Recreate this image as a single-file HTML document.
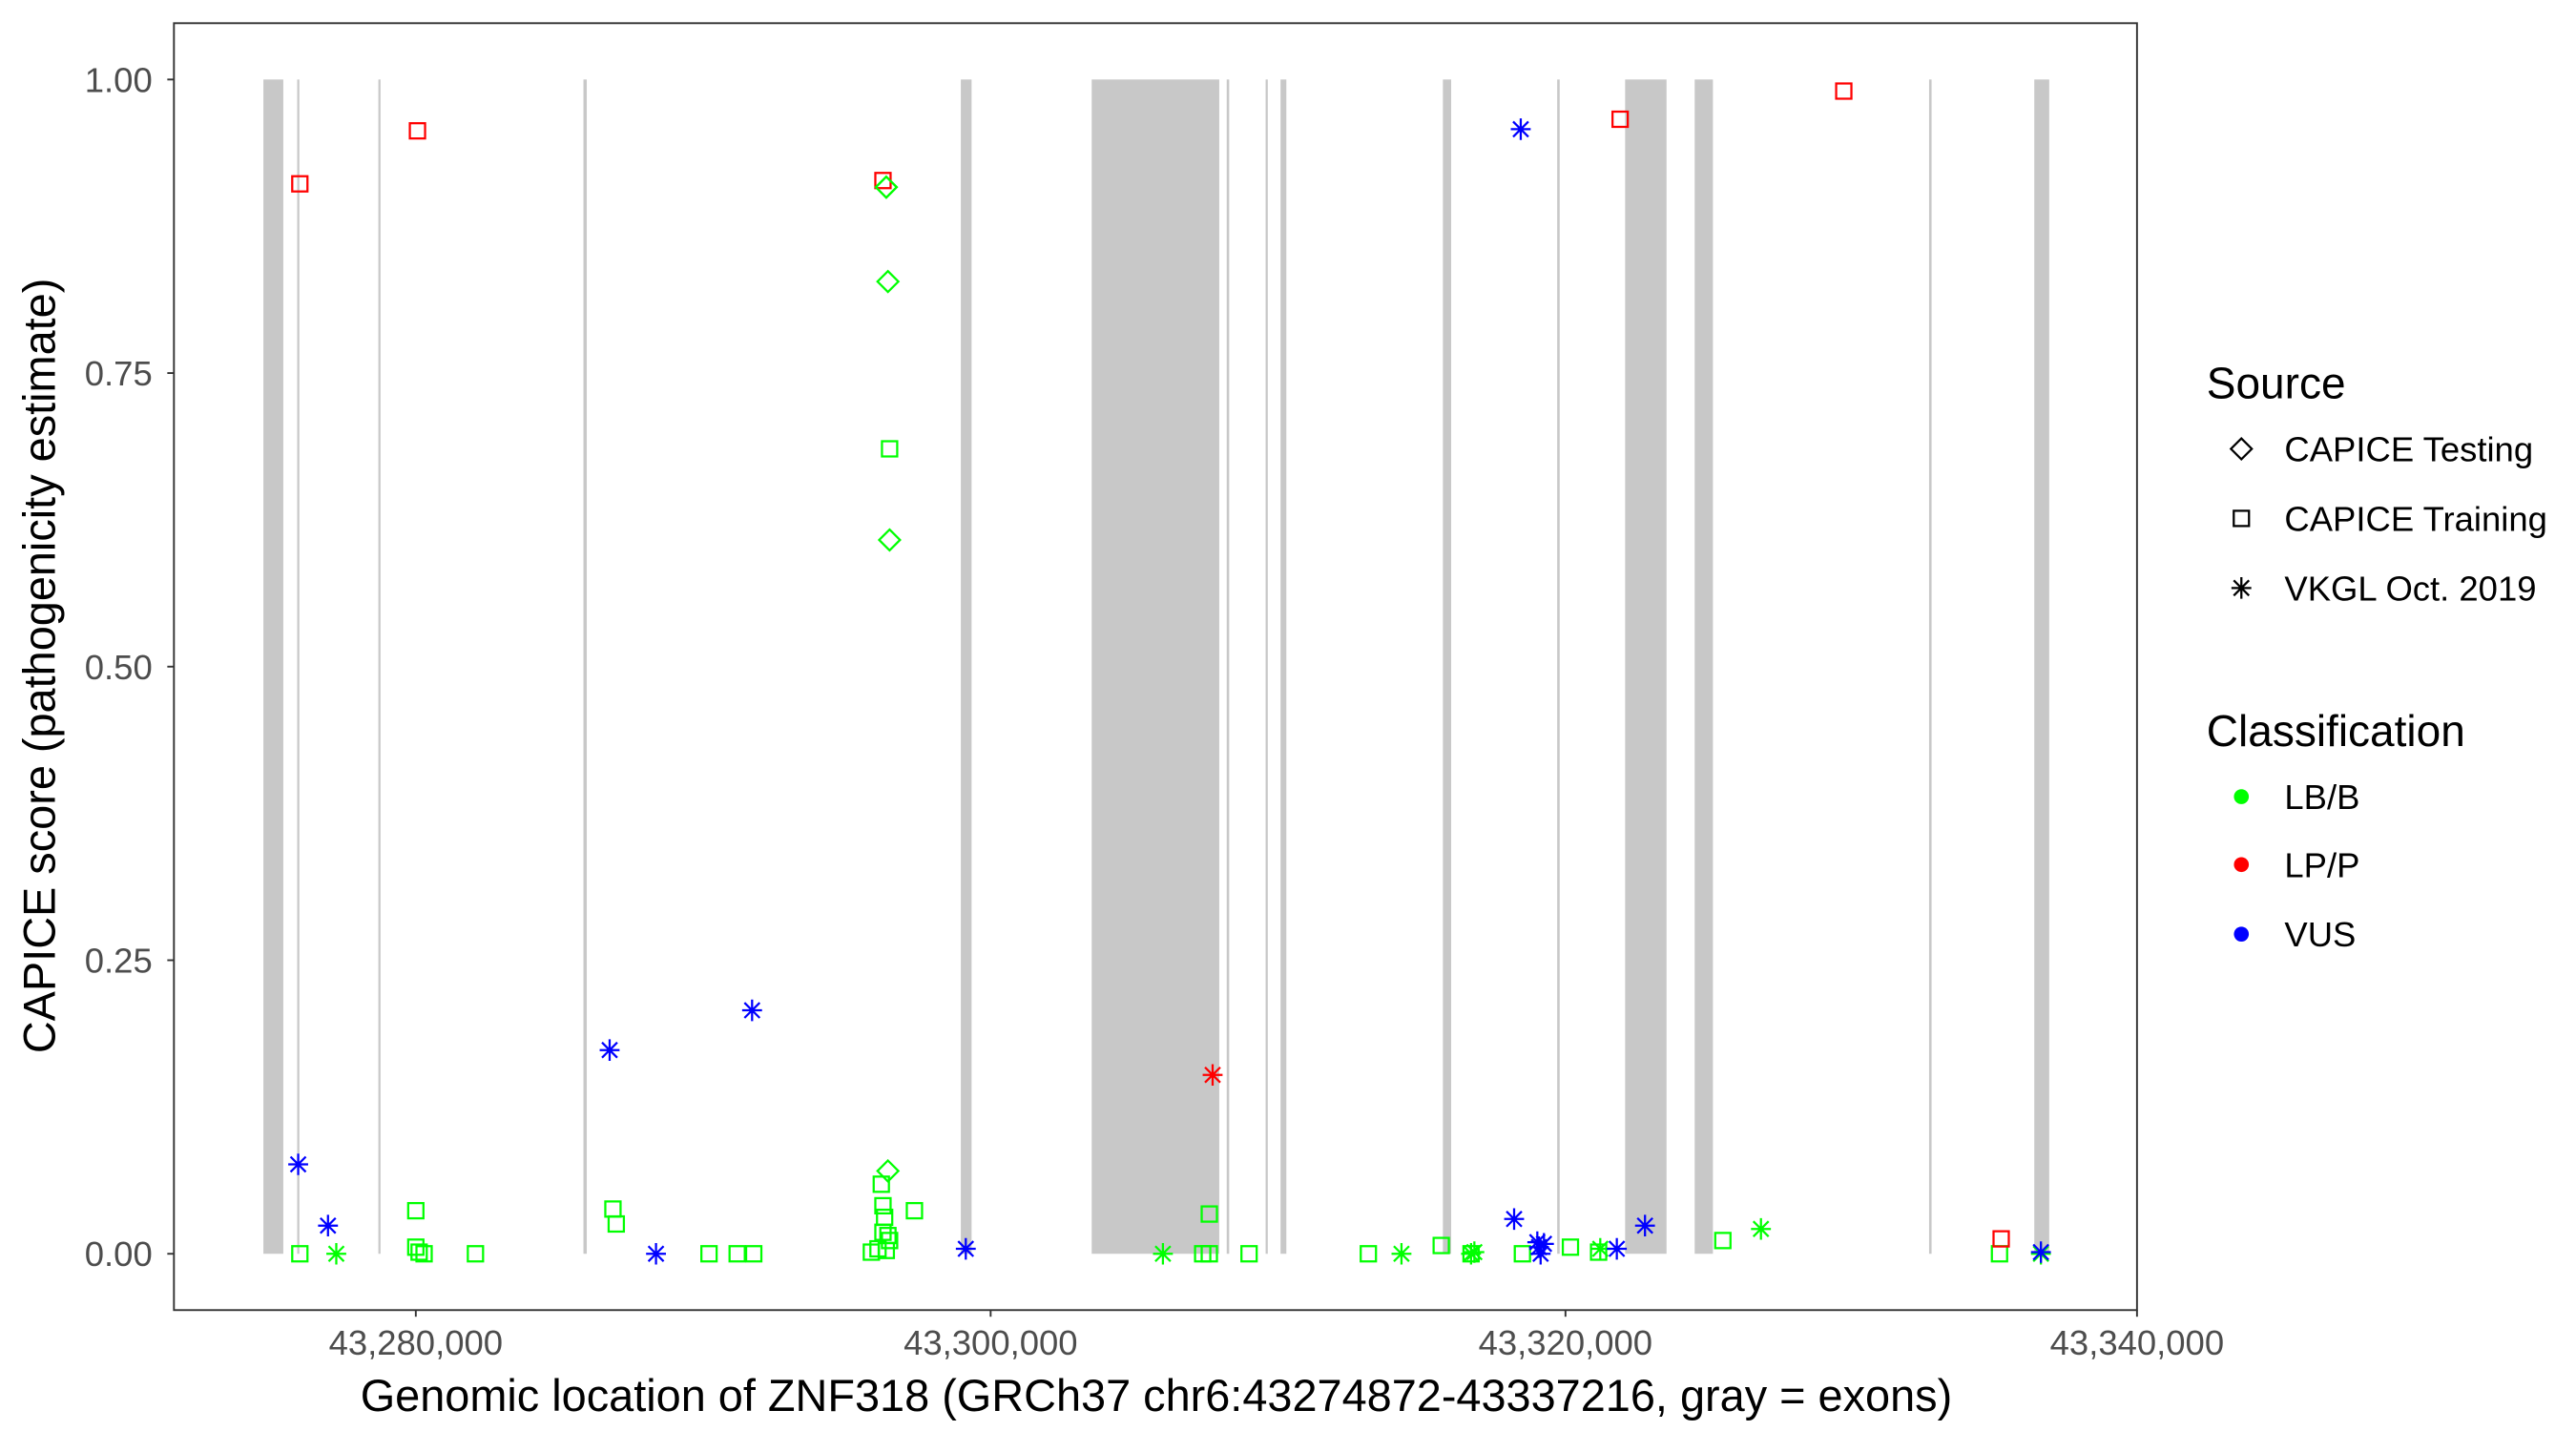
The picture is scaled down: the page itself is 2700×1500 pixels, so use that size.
<!DOCTYPE html>
<html><head><meta charset="utf-8"><style>
html,body{margin:0;padding:0;background:#fff;}
svg{display:block;}
text{font-family:"Liberation Sans",Arial,sans-serif;}
</style></head><body>
<svg width="2700" height="1500" viewBox="0 0 1555 864" preserveAspectRatio="none" xmlns="http://www.w3.org/2000/svg">
<defs>
<g id="sq"><rect x="-4.6" y="-4.6" width="9.2" height="9.2" fill="none" stroke-width="1.3"/></g>
<g id="dm"><path d="M0,-6.3 L6.3,0 L0,6.3 L-6.3,0 Z" fill="none" stroke-width="1.3"/></g>
<g id="st"><path d="M0,-6.5 V6.5 M-6,0 H6 M-4.6,-4.6 L4.6,4.6 M-4.6,4.6 L4.6,-4.6" fill="none" stroke-width="1.3"/></g>
</defs>
<rect width="1555" height="864" fill="#fff"/>
<g fill="#c8c8c8">
<rect x="159" y="48" width="12" height="709"/>
<rect x="179.4" y="48" width="1.3" height="709"/>
<rect x="228.4" y="48" width="1.3" height="709"/>
<rect x="352.2" y="48" width="2" height="709"/>
<rect x="580" y="48" width="6.5" height="709"/>
<rect x="659" y="48" width="77" height="709"/>
<rect x="740.5" y="48" width="1.5" height="709"/>
<rect x="764" y="48" width="1.3" height="709"/>
<rect x="773" y="48" width="3.5" height="709"/>
<rect x="871" y="48" width="5" height="709"/>
<rect x="940" y="48" width="1.5" height="709"/>
<rect x="981" y="48" width="25" height="709"/>
<rect x="1023" y="48" width="11" height="709"/>
<rect x="1164.5" y="48" width="1.5" height="709"/>
<rect x="1228" y="48" width="9" height="709"/>
</g>
<g stroke="#00ff00">
<use href="#dm" x="535" y="113"/><use href="#dm" x="536" y="170"/><use href="#dm" x="537" y="326"/><use href="#dm" x="536" y="707"/>
<use href="#sq" x="537" y="271"/><use href="#sq" x="181" y="757"/><use href="#sq" x="251" y="731"/><use href="#sq" x="251" y="753"/><use href="#sq" x="253" y="756"/><use href="#sq" x="256" y="757"/><use href="#sq" x="287" y="757"/><use href="#sq" x="370" y="730"/><use href="#sq" x="372" y="739"/><use href="#sq" x="428" y="757"/><use href="#sq" x="445" y="757"/><use href="#sq" x="455" y="757"/><use href="#sq" x="526" y="756"/><use href="#sq" x="530" y="754"/><use href="#sq" x="532" y="715"/><use href="#sq" x="533" y="728"/><use href="#sq" x="533" y="744"/><use href="#sq" x="534" y="735"/><use href="#sq" x="536" y="746"/><use href="#sq" x="535" y="755"/><use href="#sq" x="537" y="749"/><use href="#sq" x="552" y="731"/><use href="#sq" x="730" y="733"/><use href="#sq" x="726" y="757"/><use href="#sq" x="730" y="757"/><use href="#sq" x="754" y="757"/><use href="#sq" x="826" y="757"/><use href="#sq" x="870" y="752"/><use href="#sq" x="888" y="757"/><use href="#sq" x="919" y="757"/><use href="#sq" x="948" y="753"/><use href="#sq" x="965" y="756"/><use href="#sq" x="1040" y="749"/><use href="#sq" x="1207" y="757"/>
<use href="#st" x="203" y="757"/><use href="#st" x="702" y="757"/><use href="#st" x="846" y="757"/><use href="#st" x="888" y="757"/><use href="#st" x="890" y="756"/><use href="#st" x="1063" y="742"/><use href="#st" x="1232" y="757"/><use href="#st" x="966" y="754"/>
</g>
<g stroke="#ff0000">
<use href="#sq" x="181" y="111"/><use href="#sq" x="252" y="79"/><use href="#sq" x="533" y="109"/><use href="#sq" x="978" y="72"/><use href="#sq" x="1113" y="55"/><use href="#sq" x="1208" y="748"/>
<use href="#st" x="732" y="649"/>
</g>
<g stroke="#00ff00"><use href="#dm" x="535" y="113"/></g>
<g stroke="#0000ff">
<use href="#st" x="180" y="703"/><use href="#st" x="198" y="740"/><use href="#st" x="368" y="634"/><use href="#st" x="396" y="757"/><use href="#st" x="454" y="610"/><use href="#st" x="583" y="754"/><use href="#st" x="918" y="78"/><use href="#st" x="914" y="736"/><use href="#st" x="928" y="750"/><use href="#st" x="929" y="753"/><use href="#st" x="930" y="757"/><use href="#st" x="932" y="751"/><use href="#st" x="976" y="754"/><use href="#st" x="993" y="740"/><use href="#st" x="1232" y="756"/>
</g>
<rect x="105" y="14" width="1185" height="777" fill="none" stroke="#333" stroke-width="1.1"/>
<g stroke="#333" stroke-width="1.1">
<line x1="101" x2="105" y1="48" y2="48"/><line x1="101" x2="105" y1="225.25" y2="225.25"/><line x1="101" x2="105" y1="402.5" y2="402.5"/><line x1="101" x2="105" y1="579.75" y2="579.75"/><line x1="101" x2="105" y1="757" y2="757"/>
<line x1="251" x2="251" y1="791" y2="795"/><line x1="598" x2="598" y1="791" y2="795"/><line x1="945" x2="945" y1="791" y2="795"/><line x1="1290" x2="1290" y1="791" y2="795"/>
</g>
<g fill="#4d4d4d" font-size="21" text-anchor="end">
<text x="92" y="55.5">1.00</text><text x="92" y="232.75">0.75</text><text x="92" y="410">0.50</text><text x="92" y="587.25">0.25</text><text x="92" y="764.5">0.00</text>
</g>
<g fill="#4d4d4d" font-size="21" text-anchor="middle">
<text x="251" y="818">43,280,000</text><text x="598" y="818">43,300,000</text><text x="945" y="818">43,320,000</text><text x="1290" y="818">43,340,000</text>
</g>
<text x="698" y="852" font-size="27" text-anchor="middle" fill="#000">Genomic location of ZNF318 (GRCh37 chr6:43274872-43337216, gray = exons)</text>
<text transform="translate(33,402) rotate(-90)" font-size="27" text-anchor="middle" fill="#000">CAPICE score (pathogenicity estimate)</text>
<text x="1332" y="240.5" font-size="26.5" fill="#000">Source</text>
<g stroke="#000"><use href="#dm" x="1353" y="271"/><use href="#sq" x="1353" y="313"/><use href="#st" x="1353" y="355"/></g>
<g font-size="21" fill="#000">
<text x="1379" y="278.5">CAPICE Testing</text><text x="1379" y="320.5">CAPICE Training</text><text x="1379" y="362.5">VKGL Oct. 2019</text>
</g>
<text x="1332" y="450.5" font-size="26.5" fill="#000">Classification</text>
<circle cx="1353" cy="481" r="4.5" fill="#00ff00"/><circle cx="1353" cy="522" r="4.5" fill="#ff0000"/><circle cx="1353" cy="564" r="4.5" fill="#0000ff"/>
<g font-size="21" fill="#000">
<text x="1379" y="488.5">LB/B</text><text x="1379" y="529.5">LP/P</text><text x="1379" y="571.5">VUS</text>
</g>
</svg>
</body></html>
